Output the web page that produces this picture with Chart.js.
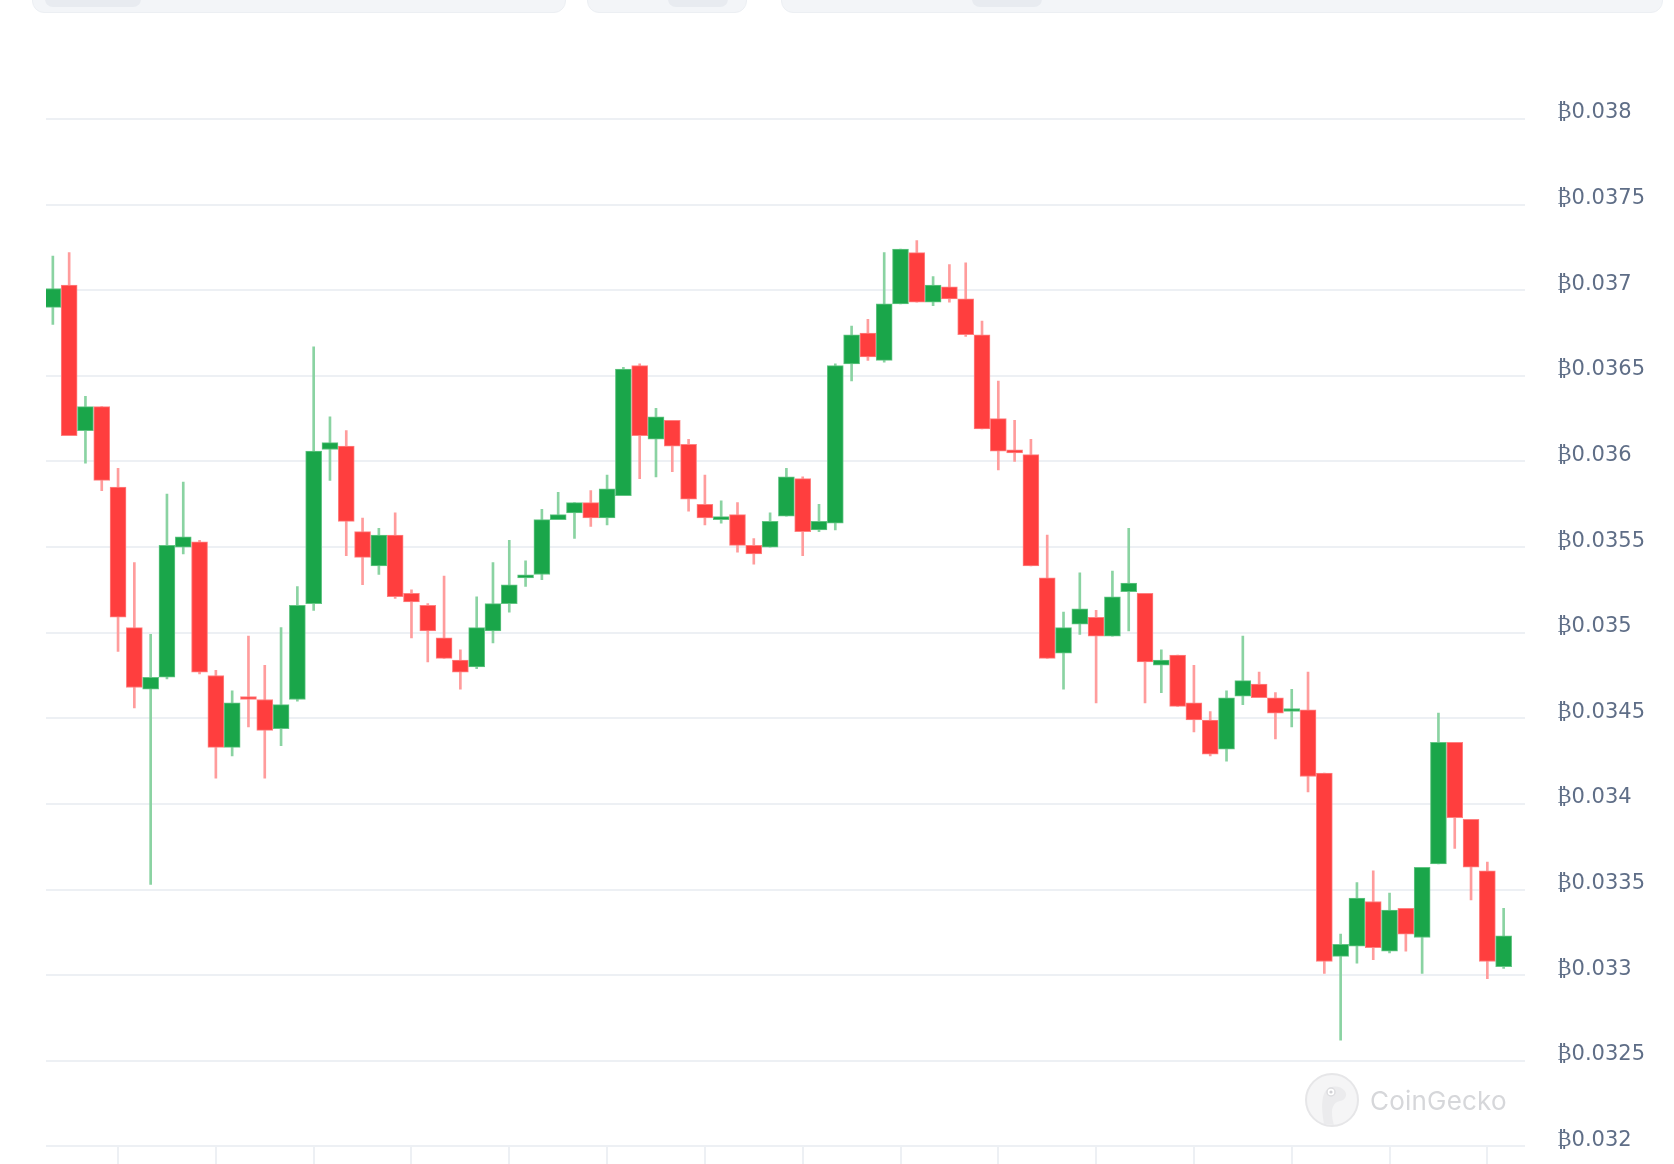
<!DOCTYPE html>
<html>
<head>
<meta charset="utf-8">
<script src="https://cdn.jsdelivr.net/npm/chart.js@4.4.1/dist/chart.umd.min.js"></script>
<style>
  html, body { margin: 0; padding: 0; background: #ffffff; overflow: hidden; }
  #wrap { position: relative; width: 1674px; height: 1164px; overflow: hidden; }
  canvas { position: absolute; left: 0; top: 0; }
  .tab { position: absolute; top: -20px; height: 33px; background: #f3f5f8; border-radius: 12px; border: 1px solid #eceff3; box-sizing: border-box; }
  .tab i { position: absolute; top: 0; height: 26px; background: #e8ebf0; border-radius: 8px; }
  #wm { position: absolute; left: 1304px; top: 1072px; height: 56px; display: flex; align-items: center; pointer-events: none; }
  #wm span { font-family: 'Inter', 'Noto Sans', sans-serif; font-size: 26px; color: #d6d7da; margin-left: 10px; letter-spacing: 0.2px; }
</style>
</head>
<body>
<div id="wrap">
  <canvas id="c" width="1674" height="1191"></canvas>
  <div class="tab" style="left:32px;width:534px;"><i style="left:12px;width:96px;"></i></div>
  <div class="tab" style="left:587px;width:160px;"><i style="left:80px;width:60px;"></i></div>
  <div class="tab" style="left:781px;width:882px;"><i style="left:190px;width:70px;"></i></div>
  <div id="wm">
    <svg width="56" height="56" viewBox="0 0 56 56">
      <circle cx="28" cy="28" r="26" fill="#f5f5f6" stroke="#e6e6e8" stroke-width="2"/>
      <path d="M20 52 C18 40 17 30 20 22 C23 14 34 12 40 18 C44 22 42 28 36 29 C31 30 28 34 28 40 C28 46 29 50 30 53 Z" fill="#ebebed"/>
      <circle cx="27" cy="20" r="4" fill="#ffffff" stroke="#dcdcdf" stroke-width="1.5"/>
      <circle cx="27" cy="20" r="1.6" fill="#d0d0d4"/>
    </svg>
    <span>CoinGecko</span>
  </div>
</div>
<script>
// OHLC values (BTC price), 4-hour candles
const openPrices = [
  0.03690, 0.03703, 0.03618, 0.03632, 0.03585, 0.03503, 0.03467, 0.03474, 0.03550, 0.03553,
  0.03475, 0.03433, 0.03462, 0.03461, 0.03444, 0.03461, 0.03517, 0.03607, 0.03609, 0.03559,
  0.03539, 0.03557, 0.03523, 0.03516, 0.03497, 0.03484, 0.03480, 0.03501, 0.03517, 0.03532,
  0.03534, 0.03566, 0.03570, 0.03576, 0.03567, 0.03580, 0.03656, 0.03613, 0.03624, 0.03610,
  0.03575, 0.03566, 0.03569, 0.03551, 0.03550, 0.03568, 0.03590, 0.03560, 0.03564, 0.03657,
  0.03675, 0.03659, 0.03692, 0.03722, 0.03693, 0.03702, 0.03695, 0.03674, 0.03625, 0.03606,
  0.03604, 0.03532, 0.03488, 0.03505, 0.03509, 0.03498, 0.03524, 0.03523, 0.03481, 0.03487,
  0.03459, 0.03449, 0.03432, 0.03463, 0.03470, 0.03462, 0.03454, 0.03455, 0.03418, 0.03311,
  0.03317, 0.03343, 0.03314, 0.03339, 0.03322, 0.03365, 0.03436, 0.03391, 0.03361, 0.03305
];
const highPrices = [
  0.03720, 0.03722, 0.03638, 0.03632, 0.03596, 0.03541, 0.03499, 0.03581, 0.03588, 0.03554,
  0.03478, 0.03466, 0.03498, 0.03481, 0.03503, 0.03527, 0.03667, 0.03626, 0.03618, 0.03567,
  0.03561, 0.03570, 0.03525, 0.03517, 0.03533, 0.03490, 0.03521, 0.03541, 0.03554, 0.03542,
  0.03572, 0.03582, 0.03576, 0.03583, 0.03592, 0.03655, 0.03657, 0.03631, 0.03624, 0.03613,
  0.03592, 0.03577, 0.03576, 0.03555, 0.03570, 0.03596, 0.03591, 0.03575, 0.03657, 0.03679,
  0.03683, 0.03722, 0.03724, 0.03729, 0.03708, 0.03715, 0.03716, 0.03682, 0.03647, 0.03624,
  0.03613, 0.03557, 0.03512, 0.03535, 0.03513, 0.03536, 0.03561, 0.03523, 0.03490, 0.03487,
  0.03481, 0.03454, 0.03466, 0.03498, 0.03477, 0.03465, 0.03467, 0.03477, 0.03418, 0.03324,
  0.03354, 0.03361, 0.03348, 0.03339, 0.03363, 0.03453, 0.03436, 0.03391, 0.03366, 0.03339
];
const lowPrices = [
  0.03680, 0.03615, 0.03599, 0.03583, 0.03489, 0.03456, 0.03353, 0.03473, 0.03546, 0.03476,
  0.03415, 0.03428, 0.03445, 0.03415, 0.03434, 0.03460, 0.03513, 0.03589, 0.03545, 0.03528,
  0.03534, 0.03520, 0.03497, 0.03483, 0.03485, 0.03467, 0.03479, 0.03494, 0.03512, 0.03527,
  0.03531, 0.03566, 0.03555, 0.03562, 0.03563, 0.03580, 0.03590, 0.03591, 0.03594, 0.03571,
  0.03563, 0.03564, 0.03547, 0.03540, 0.03550, 0.03568, 0.03545, 0.03559, 0.03560, 0.03647,
  0.03659, 0.03658, 0.03692, 0.03693, 0.03691, 0.03693, 0.03673, 0.03619, 0.03595, 0.03600,
  0.03539, 0.03485, 0.03467, 0.03499, 0.03459, 0.03498, 0.03501, 0.03459, 0.03465, 0.03457,
  0.03442, 0.03428, 0.03425, 0.03458, 0.03462, 0.03438, 0.03445, 0.03407, 0.03301, 0.03262,
  0.03307, 0.03309, 0.03313, 0.03314, 0.03301, 0.03365, 0.03374, 0.03344, 0.03298, 0.03304
];
const closePrices = [
  0.03701, 0.03615, 0.03632, 0.03589, 0.03509, 0.03468, 0.03474, 0.03551, 0.03556, 0.03477,
  0.03433, 0.03459, 0.03461, 0.03443, 0.03458, 0.03516, 0.03606, 0.03611, 0.03565, 0.03544,
  0.03557, 0.03521, 0.03518, 0.03501, 0.03485, 0.03477, 0.03503, 0.03517, 0.03528, 0.03533,
  0.03566, 0.03569, 0.03576, 0.03567, 0.03584, 0.03654, 0.03615, 0.03626, 0.03609, 0.03578,
  0.03567, 0.03567, 0.03551, 0.03546, 0.03565, 0.03591, 0.03559, 0.03565, 0.03656, 0.03674,
  0.03661, 0.03692, 0.03724, 0.03693, 0.03703, 0.03695, 0.03674, 0.03619, 0.03606, 0.03605,
  0.03539, 0.03485, 0.03503, 0.03514, 0.03498, 0.03521, 0.03529, 0.03483, 0.03484, 0.03457,
  0.03449, 0.03429, 0.03462, 0.03472, 0.03462, 0.03453, 0.03455, 0.03416, 0.03308, 0.03318,
  0.03345, 0.03316, 0.03338, 0.03324, 0.03363, 0.03436, 0.03392, 0.03363, 0.03308, 0.03323
];
// candle indices where the daily time ticks fall
const dayTickIndex = [4, 10, 16, 22, 28, 34, 40, 46, 52, 58, 64, 70, 76, 82, 88];
// price axis
const priceMin = 0.032;
const priceMax = 0.038;
const priceStep = 0.0005;
const currencySymbol = '₿';

const UP = '#1aa64a', DOWN = '#ff3e3e';
const UP_EDGE = '#62c483', DOWN_EDGE = '#ff8080';
const UP_WICK = '#8ad3a2', DOWN_WICK = '#ff9c9c';

const isUp = openPrices.map((o, i) => closePrices[i] >= o);
const bodyData = openPrices.map((o, i) => ({ x: i, y: [o, closePrices[i]] }));
const wickData = lowPrices.map((l, i) => ({ x: i, y: [l, highPrices[i]] }));

new Chart(document.getElementById('c'), {
  type: 'bar',
  data: {
    datasets: [
      {
        label: 'wick',
        data: wickData,
        backgroundColor: isUp.map(u => u ? UP_WICK : DOWN_WICK),
        borderWidth: 0,
        barThickness: 2,
        grouped: false,
        order: 2
      },
      {
        label: 'body',
        data: bodyData,
        backgroundColor: isUp.map(u => u ? UP : DOWN),
        borderColor: isUp.map(u => u ? UP_EDGE : DOWN_EDGE),
        borderWidth: 1,
        borderSkipped: false,
        barThickness: 16,
        minBarLength: 3,
        grouped: false,
        order: 1
      }
    ]
  },
  options: {
    responsive: false,
    animation: false,
    events: [],
    layout: { padding: { left: 46, top: 119, right: 0, bottom: 0 } },
    plugins: { legend: { display: false }, tooltip: { enabled: false } },
    scales: {
      x: {
        type: 'linear',
        offset: false,
        bounds: 'data',
        min: -0.42,
        max: 90.31,
        border: { display: false },
        grid: { offset: false, drawOnChartArea: false, color: '#edf0f4', lineWidth: 2, tickLength: 18 },
        ticks: { display: false },
        afterBuildTicks: s => { s.ticks = dayTickIndex.map(v => ({ value: v })); }
      },
      y: {
        position: 'right',
        min: priceMin,
        max: priceMax,
        border: { display: false },
        grid: { color: '#edf0f4', lineWidth: 2, drawTicks: false },
        ticks: {
          stepSize: priceStep,
          padding: 32,
          labelOffset: -6,
          color: '#5f6e87',
          font: { family: 'DejaVu Sans', size: 21 },
          callback: v => currencySymbol + Number(v).toFixed(4).replace(/0+$/, '')
        },
        afterFit: s => { s.width = 149; }
      }
    }
  }
});
</script>
</body>
</html>
